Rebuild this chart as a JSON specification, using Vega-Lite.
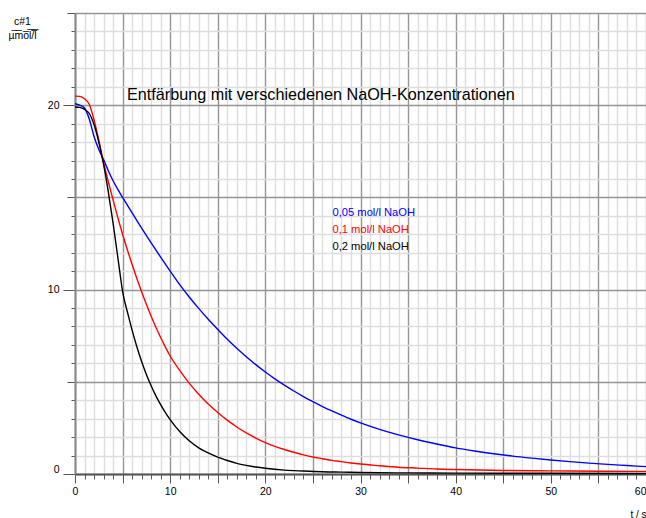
{
  "$schema": "https://vega.github.io/schema/vega-lite/v6.json",
  "autosize": {"type": "none"},
  "width": 571,
  "height": 461,
  "padding": {"left": 75, "top": 13, "right": 0, "bottom": 44},
  "background": "white",
  "view": {"stroke": null},
  "config": {"font": "Liberation Sans"},
  "layer": [
    {
      "data": {"values": [
        {"s":"0,05","t":0,"c":20.08},{"s":"0,05","t":0.5,"c":20.0},{"s":"0,05","t":1,"c":19.85},{"s":"0,05","t":1.5,"c":19.25},{"s":"0,05","t":2,"c":18.3},{"s":"0,05","t":2.5,"c":17.6},{"s":"0,05","t":3,"c":17.05},{"s":"0,05","t":3.5,"c":16.45},{"s":"0,05","t":4,"c":15.9},{"s":"0,05","t":4.5,"c":15.43},{"s":"0,05","t":5,"c":15.0},{"s":"0,05","t":6,"c":14.16},{"s":"0,05","t":7,"c":13.34},{"s":"0,05","t":8,"c":12.54},{"s":"0,05","t":9,"c":11.76},{"s":"0,05","t":10,"c":11.0},{"s":"0,05","t":11,"c":10.27},{"s":"0,05","t":12,"c":9.6},{"s":"0,05","t":13,"c":8.98},{"s":"0,05","t":14,"c":8.39},{"s":"0,05","t":15,"c":7.84},{"s":"0,05","t":16,"c":7.31},{"s":"0,05","t":17,"c":6.82},{"s":"0,05","t":18,"c":6.36},{"s":"0,05","t":19,"c":5.93},{"s":"0,05","t":20,"c":5.53},{"s":"0,05","t":21,"c":5.16},{"s":"0,05","t":22,"c":4.82},{"s":"0,05","t":23,"c":4.5},{"s":"0,05","t":24,"c":4.2},{"s":"0,05","t":25,"c":3.92},{"s":"0,05","t":26,"c":3.66},{"s":"0,05","t":27,"c":3.42},{"s":"0,05","t":28,"c":3.19},{"s":"0,05","t":29,"c":2.97},{"s":"0,05","t":30,"c":2.77},{"s":"0,05","t":32,"c":2.42},{"s":"0,05","t":34,"c":2.12},{"s":"0,05","t":36,"c":1.86},{"s":"0,05","t":38,"c":1.63},{"s":"0,05","t":40,"c":1.42},{"s":"0,05","t":42,"c":1.25},{"s":"0,05","t":44,"c":1.1},{"s":"0,05","t":46,"c":0.97},{"s":"0,05","t":48,"c":0.86},{"s":"0,05","t":50,"c":0.76},{"s":"0,05","t":52,"c":0.67},{"s":"0,05","t":54,"c":0.59},{"s":"0,05","t":56,"c":0.52},{"s":"0,05","t":58,"c":0.46},{"s":"0,05","t":60,"c":0.4},
        {"s":"0,1","t":0,"c":20.49},{"s":"0,1","t":0.5,"c":20.48},{"s":"0,1","t":1,"c":20.35},{"s":"0,1","t":1.5,"c":20.05},{"s":"0,1","t":2,"c":19.2},{"s":"0,1","t":2.5,"c":18.1},{"s":"0,1","t":3,"c":16.9},{"s":"0,1","t":3.5,"c":15.85},{"s":"0,1","t":4,"c":14.87},{"s":"0,1","t":4.5,"c":13.9},{"s":"0,1","t":5,"c":13.0},{"s":"0,1","t":5.5,"c":12.16},{"s":"0,1","t":6,"c":11.36},{"s":"0,1","t":6.5,"c":10.6},{"s":"0,1","t":7,"c":9.88},{"s":"0,1","t":7.5,"c":9.2},{"s":"0,1","t":8,"c":8.56},{"s":"0,1","t":8.5,"c":7.96},{"s":"0,1","t":9,"c":7.4},{"s":"0,1","t":9.5,"c":6.88},{"s":"0,1","t":10,"c":6.4},{"s":"0,1","t":11,"c":5.62},{"s":"0,1","t":12,"c":4.93},{"s":"0,1","t":13,"c":4.33},{"s":"0,1","t":14,"c":3.8},{"s":"0,1","t":15,"c":3.34},{"s":"0,1","t":16,"c":2.92},{"s":"0,1","t":17,"c":2.55},{"s":"0,1","t":18,"c":2.23},{"s":"0,1","t":19,"c":1.95},{"s":"0,1","t":20,"c":1.7},{"s":"0,1","t":21,"c":1.5},{"s":"0,1","t":22,"c":1.33},{"s":"0,1","t":23,"c":1.18},{"s":"0,1","t":24,"c":1.04},{"s":"0,1","t":25,"c":0.92},{"s":"0,1","t":26,"c":0.83},{"s":"0,1","t":27,"c":0.74},{"s":"0,1","t":28,"c":0.67},{"s":"0,1","t":29,"c":0.6},{"s":"0,1","t":30,"c":0.54},{"s":"0,1","t":32,"c":0.45},{"s":"0,1","t":34,"c":0.37},{"s":"0,1","t":36,"c":0.32},{"s":"0,1","t":38,"c":0.27},{"s":"0,1","t":40,"c":0.24},{"s":"0,1","t":45,"c":0.19},{"s":"0,1","t":50,"c":0.17},{"s":"0,1","t":55,"c":0.15},{"s":"0,1","t":60,"c":0.14},
        {"s":"0,2","t":0,"c":19.9},{"s":"0,2","t":0.5,"c":19.88},{"s":"0,2","t":1,"c":19.77},{"s":"0,2","t":1.5,"c":19.55},{"s":"0,2","t":2,"c":18.95},{"s":"0,2","t":2.5,"c":18.0},{"s":"0,2","t":3,"c":16.8},{"s":"0,2","t":3.5,"c":15.3},{"s":"0,2","t":4,"c":13.6},{"s":"0,2","t":4.5,"c":11.75},{"s":"0,2","t":4.75,"c":10.8},{"s":"0,2","t":5,"c":9.9},{"s":"0,2","t":5.25,"c":9.3},{"s":"0,2","t":5.5,"c":8.8},{"s":"0,2","t":6,"c":7.8},{"s":"0,2","t":6.5,"c":6.9},{"s":"0,2","t":7,"c":6.1},{"s":"0,2","t":7.5,"c":5.4},{"s":"0,2","t":8,"c":4.79},{"s":"0,2","t":8.5,"c":4.24},{"s":"0,2","t":9,"c":3.76},{"s":"0,2","t":9.5,"c":3.33},{"s":"0,2","t":10,"c":2.95},{"s":"0,2","t":11,"c":2.3},{"s":"0,2","t":12,"c":1.8},{"s":"0,2","t":13,"c":1.42},{"s":"0,2","t":14,"c":1.14},{"s":"0,2","t":15,"c":0.91},{"s":"0,2","t":16,"c":0.73},{"s":"0,2","t":17,"c":0.58},{"s":"0,2","t":18,"c":0.47},{"s":"0,2","t":19,"c":0.38},{"s":"0,2","t":20,"c":0.31},{"s":"0,2","t":22,"c":0.21},{"s":"0,2","t":24,"c":0.16},{"s":"0,2","t":26,"c":0.12},{"s":"0,2","t":28,"c":0.1},{"s":"0,2","t":30,"c":0.08},{"s":"0,2","t":35,"c":0.06},{"s":"0,2","t":40,"c":0.05},{"s":"0,2","t":50,"c":0.04},{"s":"0,2","t":60,"c":0.03}
      ]},
      "mark": {"type": "line", "strokeWidth": 1.4, "interpolate": "monotone"},
      "encoding": {
        "x": {
          "field": "t", "type": "quantitative",
          "scale": {"domain": [0, 60], "nice": false, "zero": false},
          "axis": {
            "tickCount": 60,
            "labelExpr": "datum.value % 10 === 0 ? datum.label : ''",
            "labelFlush": false,
            "labelOverlap": false,
            "labelAlign": {"condition": {"test": "datum.value === 60", "value": "right"}, "value": "center"},
            "labelFont": "Liberation Sans", "labelFontSize": 10.5, "labelColor": "#000000", "labelPadding": 3,
            "grid": true,
            "gridColor": {"condition": {"test": "datum.value % 5 === 0", "value": "#959595"}, "value": "#dedede"},
            "gridWidth": 1.4,
            "tickSize": {"condition": {"test": "datum.value % 5 === 0", "value": 9}, "value": 5},
            "tickColor": "#555555", "tickWidth": 1,
            "domainColor": "#555555", "domainWidth": 2,
            "title": "t / s",
            "titleFont": "Liberation Sans", "titleFontSize": 10, "titleFontWeight": "normal", "titleColor": "#000000",
            "titleAnchor": "end", "titleAlign": "right", "titleBaseline": "alphabetic",
            "titleX": 571, "titleY": 43
          }
        },
        "y": {
          "field": "c", "type": "quantitative",
          "scale": {"domain": [0, 25], "nice": false},
          "axis": {
            "tickCount": 25,
            "labelExpr": "datum.value % 10 === 0 ? datum.label : ''",
            "labelFlush": false,
            "labelOverlap": false,
            "labelOffset": {"condition": {"test": "datum.value === 0", "value": -5}, "value": 0},
            "labelFont": "Liberation Sans", "labelFontSize": 10.5, "labelColor": "#000000", "labelPadding": 4,
            "grid": true,
            "gridColor": {"condition": {"test": "datum.value % 5 === 0", "value": "#959595"}, "value": "#dedede"},
            "gridWidth": 1.4,
            "tickSize": {"condition": [{"test": "datum.value % 10 === 0", "value": 12}, {"test": "datum.value % 5 === 0", "value": 8}], "value": 4},
            "tickColor": "#555555", "tickWidth": 1,
            "domainColor": "#888888", "domainWidth": 2,
            "title": ["c#1", "\u00b5\u0305m\u0305o\u0305l\u0305/\u0305l\u0305"],
            "titleFont": "Liberation Sans", "titleFontSize": 10.5, "titleFontWeight": "normal", "titleColor": "#000000",
            "titleAngle": 0, "titleAlign": "center", "titleBaseline": "alphabetic",
            "titleLineHeight": 14,
            "titleX": -53, "titleY": 11
          }
        },
        "color": {
          "field": "s", "type": "nominal",
          "scale": {"domain": ["0,05", "0,1", "0,2"], "range": ["#0000ff", "#ff0000", "#000000"]},
          "legend": null
        }
      }
    },
    {
      "data": {"values": [{"label": "Entfärbung mit verschiedenen NaOH-Konzentrationen"}]},
      "mark": {"type": "text", "align": "left", "baseline": "alphabetic", "fontSize": 16.2, "font": "Liberation Sans", "color": "#000000"},
      "encoding": {"x": {"datum": 5.46}, "y": {"datum": 20.28}, "text": {"field": "label"}}
    },
    {
      "data": {"values": [{"label": "0,05 mol/l NaOH"}]},
      "mark": {"type": "text", "align": "left", "baseline": "alphabetic", "fontSize": 11.2, "font": "Liberation Sans", "color": "#0000ff"},
      "encoding": {"x": {"datum": 27.05}, "y": {"datum": 14.0}, "text": {"field": "label"}}
    },
    {
      "data": {"values": [{"label": "0,1 mol/l NaOH"}]},
      "mark": {"type": "text", "align": "left", "baseline": "alphabetic", "fontSize": 11.2, "font": "Liberation Sans", "color": "#ff0000"},
      "encoding": {"x": {"datum": 27.05}, "y": {"datum": 13.08}, "text": {"field": "label"}}
    },
    {
      "data": {"values": [{"label": "0,2 mol/l NaOH"}]},
      "mark": {"type": "text", "align": "left", "baseline": "alphabetic", "fontSize": 11.2, "font": "Liberation Sans", "color": "#000000"},
      "encoding": {"x": {"datum": 27.05}, "y": {"datum": 12.15}, "text": {"field": "label"}}
    }
  ]
}
